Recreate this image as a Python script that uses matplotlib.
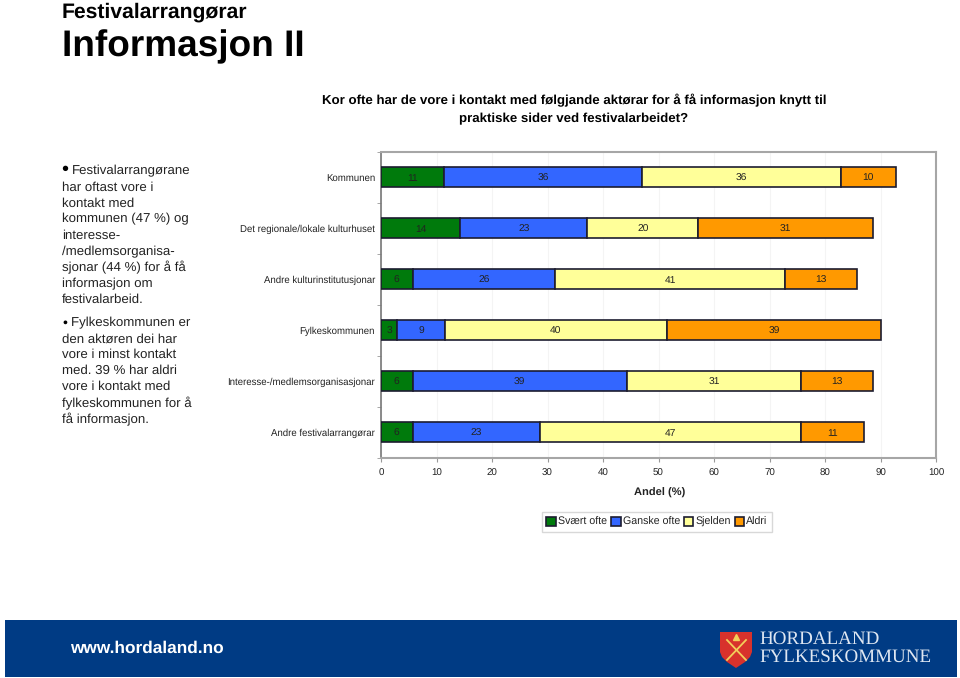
import numpy as np
import matplotlib
matplotlib.use("Agg")
import matplotlib.pyplot as plt
from matplotlib.patches import Polygon, Rectangle

plt.rcParams["font.family"] = ["Liberation Sans", "DejaVu Sans"]
plt.rcParams["text.hinting"] = "no_hinting"

W, H = 960, 678

categories = ["Kommunen", "Det regionale/lokale kulturhuset", "Andre kulturinstitutusjonar",
              "Fylkeskommunen", "Interesse-/medlemsorganisasjonar", "Andre festivalarrangørar"]
series_names = ["Svært ofte", "Ganske ofte", "Sjelden", "Aldri"]
svaert_ofte = [11.4, 14.3, 5.7, 2.9, 5.7, 5.7]
ganske_ofte = [35.7, 22.9, 25.7, 8.6, 38.6, 22.9]
sjelden = [35.7, 20.0, 41.4, 40.0, 31.4, 47.1]
aldri = [10.0, 31.4, 12.9, 38.6, 12.9, 11.4]
colors = ["#007a0c", "#3366ff", "#ffff99", "#ff9900"]
xticks = [0, 10, 20, 30, 40, 50, 60, 70, 80, 90, 100]

left_block1 = ["Festivalarrangørane", "har oftast vore i", "kontakt med", "kommunen (47 %) og",
               "interesse-", "/medlemsorganisa-", "sjonar (44 %) for å få", "informasjon om",
               "festivalarbeid."]
left_block2 = ["Fylkeskommunen er", "den aktøren dei har", "vore i minst kontakt",
               "med. 39 % har aldri", "vore i kontakt med", "fylkeskommunen for å",
               "få informasjon."]


def px(x, y):
    return x / W, 1 - y / H


def label(x, y, s, size, **kw):
    kw.setdefault("va", "center")
    kw.setdefault("color", "black")
    fig.text(*px(x, y), s, fontsize=size * 0.72, **kw)


fig = plt.figure(figsize=(9.6, 6.78), dpi=100)

# headings
label(62, 12, "Festivalarrangørar", 21.2, fontweight="bold")
label(62, 47, "Informasjon II", 37, fontweight="bold")
label(574, 100, "Kor ofte har de vore i kontakt med følgjande aktørar for å få informasjon knytt til",
      13.2, fontweight="bold", ha="center")
label(574, 119, "praktiske sider ved festivalarbeidet?", 13.2, fontweight="bold", ha="center")

# left text
for i, s in enumerate(left_block1):
    label(72 if i == 0 else 62, 171 + i * 16.1, s, 13.2, color="#222222")
for i, s in enumerate(left_block2):
    label(71 if i == 0 else 62, 323 + i * 16, s, 13.2, color="#222222")
label(61, 170, "•", 20)
label(62, 323, "•", 14)

# chart
ax = fig.add_axes([381 / W, 1 - 457.5 / H, (936 - 381) / W, (457.5 - 151.5) / H])
y = np.arange(len(categories))
left = np.zeros(len(categories))
for name, vals, col in zip(series_names, [svaert_ofte, ganske_ofte, sjelden, aldri], colors):
    bars = ax.barh(y, vals, 0.41, left=left, color=col, edgecolor="#1c1c30", linewidth=1.2,
                   label=name, zorder=3)
    for b, v in zip(bars, vals):
        ax.text(b.get_x() + b.get_width() / 2, b.get_y() + b.get_height() / 2, f"{v:.0f}",
                ha="center", va="center_baseline", fontsize=7.4, color="#222222", zorder=4)
    left += np.array(vals)

ax.set_xlim(0, 100)
ax.set_ylim(5.5, -0.5)
ax.set_xticks(xticks)
ax.set_yticks(y)
ax.set_yticklabels(categories, fontsize=6.9, color="#222222")
ax.set_yticks(np.arange(-0.5, 6), minor=True)
ax.tick_params(axis="y", which="major", length=0, pad=4.3)
ax.tick_params(axis="y", which="minor", length=3, color="#999999")
ax.tick_params(axis="x", length=3, color="#999999", labelsize=7, pad=5, labelcolor="#222222")
ax.grid(axis="x", color="#f4f4f4", linewidth=0.8, zorder=0)
for side in ["top", "right", "bottom"]:
    ax.spines[side].set_color("#a6a6a6")
    ax.spines[side].set_linewidth(1.5)
ax.spines["left"].set_color("#777777")
ax.spines["left"].set_linewidth(1.2)
ax.set_xlabel("Andel (%)", fontsize=8, fontweight="bold", color="#222222", labelpad=6)
ax.xaxis.set_label_coords((660 - 381) / 555, -(488 - 457.5) / 306)

leg = ax.legend(loc="center", bbox_to_anchor=px(657, 522), bbox_transform=fig.transFigure, ncols=4,
                fontsize=7.7, frameon=True, fancybox=False, edgecolor="#d8d8d8", framealpha=1,
                handlelength=0.9, handleheight=0.9, handletextpad=0.2, columnspacing=0.35,
                borderpad=0.45, borderaxespad=0)
for t in leg.get_texts():
    t.set_color("#222222")

# footer band
bg = fig.add_axes([0, 0, 1, 1], zorder=-1)
bg.set_xlim(0, W)
bg.set_ylim(H, 0)
bg.axis("off")
bg.add_patch(Rectangle((5, 620), 952, 57, facecolor="#003b84", edgecolor="none"))
bg.add_patch(Polygon([(720, 632), (752, 632), (752, 652), (750, 657), (745, 662), (736, 668),
                      (727, 662), (722, 657), (720, 652)],
                     closed=True, facecolor="#d8322c", edgecolor="none"))
bg.plot([727, 746], [640, 660], color="#f2cf5a", lw=1.3)
bg.plot([746, 727], [640, 660], color="#f2cf5a", lw=1.3)
bg.plot([736], [637], marker="^", color="#f2cf5a", ms=4)
label(70, 648, "www.hordaland.no", 17.2, fontweight="bold", color="white")
label(759, 639, "HORDALAND", 19, color="#dfe7f2", family="Liberation Serif")
label(759, 657, "FYLKESKOMMUNE", 19, color="#dfe7f2", family="Liberation Serif")

fig.savefig("out.png", dpi=100)
